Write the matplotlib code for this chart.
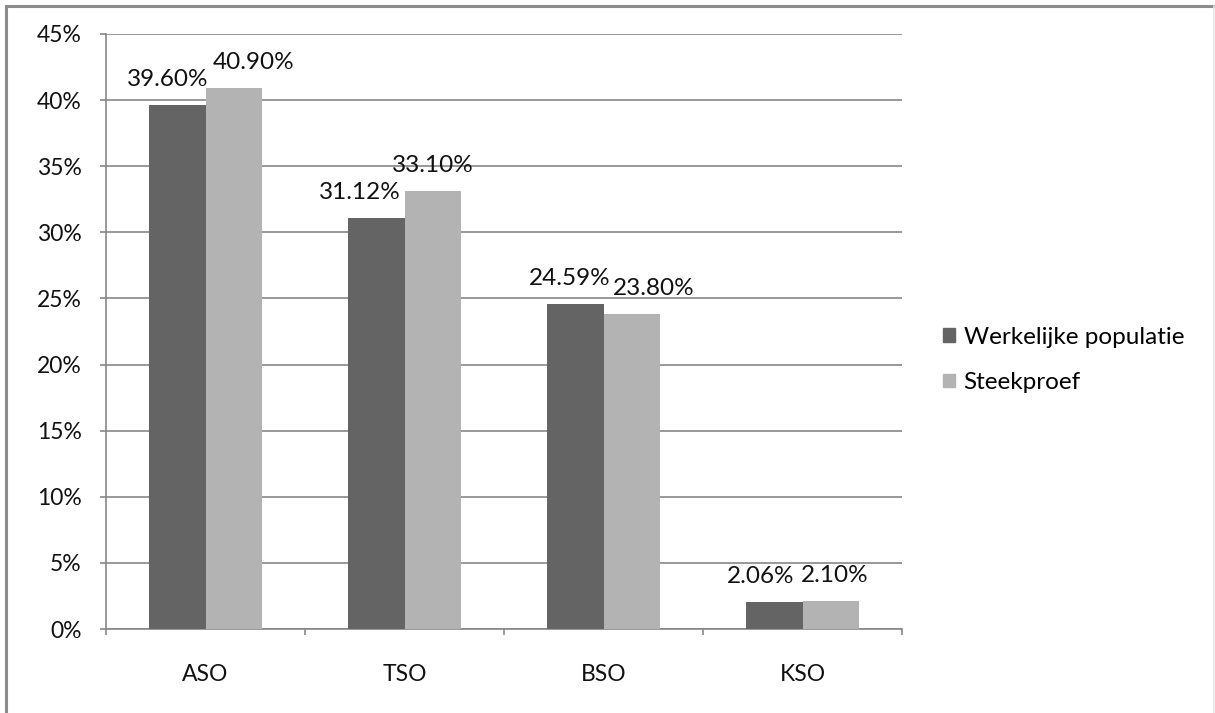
import matplotlib
matplotlib.use("Agg")
import matplotlib.pyplot as plt
from matplotlib.lines import Line2D
import numpy as np

categories = ["ASO", "TSO", "BSO", "KSO"]
populatie = [39.60, 31.12, 24.59, 2.06]
steekproef = [40.90, 33.10, 23.80, 2.10]
series_names = ["Werkelijke populatie", "Steekproef"]
yticks = [0, 5, 10, 15, 20, 25, 30, 35, 40, 45]

# style: horizontal nudges of data labels (pixels), as laid out in the original
nudge_pop = [-10, -16, -6, -14]
nudge_stk = [20, 0, 22, 4]

plt.rcParams['font.family'] = ['Lato', 'DejaVu Sans']

fig = plt.figure(figsize=(12.15, 7.13), dpi=100)
ax = fig.add_axes([106/1215, 1 - 629/713, 796/1215, 595/713])

x = np.arange(len(categories))
w = 0.284
dark = "#646464"
light = "#b3b3b3"
grid = "#878787"
fs = 16.5
lfs = 17.5
px = 72 / 100  # points per pixel

ax.bar(x - w/2, populatie, w, color=dark, label=series_names[0], zorder=3)
ax.bar(x + w/2, steekproef, w, color=light, label=series_names[1], zorder=3)

for xi, v, dx in zip(x - w/2, populatie, nudge_pop):
    ax.annotate(f"{v:.2f}%", (xi, v), xytext=(dx * px, 19 * px), textcoords="offset points",
                ha="center", va="baseline", fontsize=lfs, color="#111111")
for xi, v, dx in zip(x + w/2, steekproef, nudge_stk):
    ax.annotate(f"{v:.2f}%", (xi, v), xytext=(dx * px, 19 * px), textcoords="offset points",
                ha="center", va="baseline", fontsize=lfs, color="#111111")

ax.set_xlim(-0.5, len(categories) - 0.5)
ax.set_ylim(0, 45)
ax.set_yticks(yticks)
ax.set_yticklabels([f"{t}%" for t in yticks], fontsize=fs, color="#111111")
ax.yaxis.grid(True, color=grid, linewidth=1.2, zorder=0)
ax.set_axisbelow(True)

ax.set_xticks(x)
ax.set_xticklabels(categories, fontsize=fs, color="#111111")
ax.tick_params(axis="x", length=0, pad=25)
ax.tick_params(axis="y", length=4.5, color=grid, width=1.2, pad=13)
ax.set_xticks(np.arange(-0.5, len(categories)), minor=True)
ax.tick_params(axis="x", which="minor", length=4.5, color=grid, width=1.2)

for s in ["top", "right"]:
    ax.spines[s].set_visible(False)
for s in ["left", "bottom"]:
    ax.spines[s].set_color(grid)
    ax.spines[s].set_linewidth(1.2)

handles = [plt.Rectangle((0, 0), 1, 1, color=dark), plt.Rectangle((0, 0), 1, 1, color=light)]
fig.legend(handles, series_names, loc="center left", bbox_to_anchor=(943/1215, 1 - 360/713),
           frameon=False, fontsize=17.5, handlelength=0.5, handleheight=0.5,
           handletextpad=0.35, labelspacing=1.0, borderpad=0, borderaxespad=0)

# outer chart border
fig.add_artist(Line2D([5.5/1215, 5.5/1215], [0, 1 - 5.5/713], transform=fig.transFigure, color="#8c8c8c", linewidth=2.2))
fig.add_artist(Line2D([5.5/1215, 1213/1215], [1 - 5.5/713, 1 - 5.5/713], transform=fig.transFigure, color="#8c8c8c", linewidth=2.2))
fig.add_artist(Line2D([1213.5/1215, 1213.5/1215], [0, 1 - 5.5/713], transform=fig.transFigure, color="#e6e6e6", linewidth=1.2))

fig.savefig("out.png", dpi=100, facecolor="white")
